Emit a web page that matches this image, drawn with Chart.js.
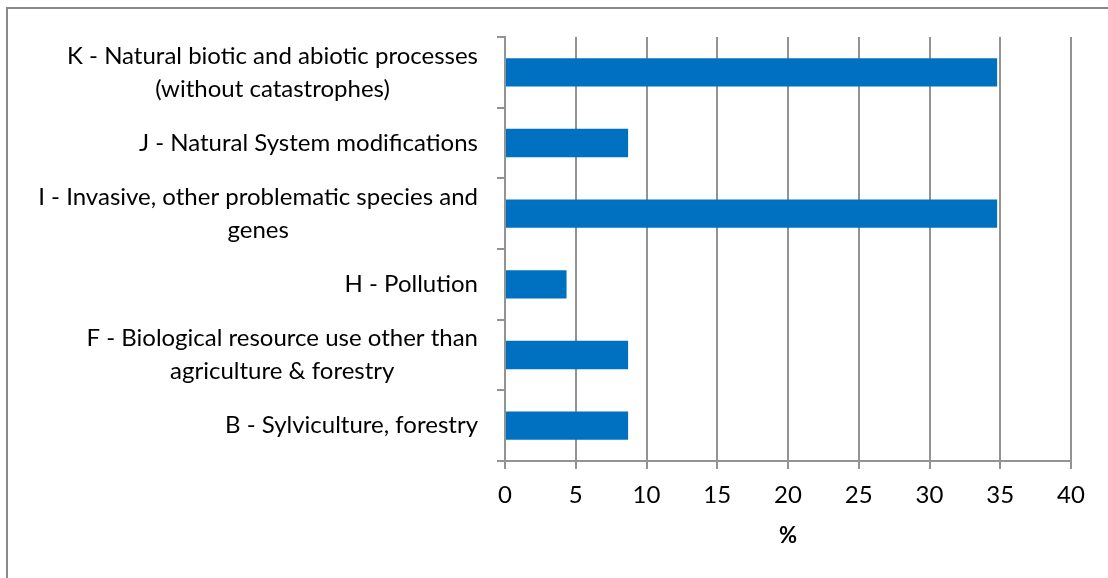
<!DOCTYPE html>
<html>
<head>
<meta charset="utf-8">
<script src="https://cdn.jsdelivr.net/npm/chart.js@4/dist/chart.umd.min.js"></script>
<style>
  html, body { margin: 0; padding: 0; background: #ffffff; }
  #wrap { width: 1108px; height: 578px; position: relative; }
</style>
</head>
<body>
<div id="wrap"><canvas id="c" width="1108" height="578"></canvas></div>
<script>
// Threat categories (top to bottom) with their wrapped label lines
const categories = [
  ["K - Natural biotic and abiotic processes", "(without catastrophes)"],
  ["J - Natural System modifications"],
  ["I - Invasive, other problematic species and", "genes"],
  ["H - Pollution"],
  ["F - Biological resource use other than", "agriculture & forestry"],
  ["B - Sylviculture, forestry"]
];
// Share of each category, in %
const shares = [34.78, 8.70, 34.78, 4.35, 8.70, 8.70];
// Value axis range and step
const axisMin = 0;
const axisMax = 40;
const axisStep = 5;
const axisTitle = "%";

const FONT = "Lato, 'Open Sans', sans-serif";
const GRID = "#939393";

// Outer frame around the figure
const framePlugin = {
  id: "frame",
  beforeDraw(chart) {
    const ctx = chart.ctx;
    ctx.save();
    ctx.strokeStyle = "#8a8a8a";
    ctx.lineWidth = 2;
    ctx.strokeRect(7, 8, chart.width + 20, chart.height + 20);
    ctx.restore();
  }
};

// Category labels: each block sits right of the axis gap, lines centred within the block
const categoryLabelPlugin = {
  id: "categoryLabels",
  afterDraw(chart) {
    const ctx = chart.ctx;
    const y = chart.scales.y;
    const rightEdge = chart.chartArea.left - 27;
    const lineH = 33;
    ctx.save();
    ctx.font = "24px " + FONT;
    ctx.fillStyle = "#000000";
    ctx.textAlign = "center";
    ctx.textBaseline = "middle";
    chart.data.labels.forEach((lines, i) => {
      const cy = y.getPixelForValue(i);
      const w = Math.max(...lines.map(l => ctx.measureText(l).width));
      const cx = rightEdge - w / 2;
      const top = cy - (lines.length - 1) * lineH / 2;
      lines.forEach((l, k) => ctx.fillText(l, cx, top + k * lineH));
    });
    ctx.restore();
  }
};

new Chart(document.getElementById("c"), {
  type: "bar",
  data: {
    labels: categories,
    datasets: [{
      data: shares,
      backgroundColor: "#0070C0",
      borderWidth: 0,
      categoryPercentage: 1.0,
      barPercentage: 0.4
    }]
  },
  plugins: [framePlugin, categoryLabelPlugin],
  options: {
    indexAxis: "y",
    responsive: false,
    animation: false,
    layout: { padding: { top: 37, right: 37, left: 0, bottom: 0 } },
    plugins: { legend: { display: false }, tooltip: { enabled: false } },
    scales: {
      x: {
        min: axisMin,
        max: axisMax,
        afterFit(scale) { scale.height = 117; },
        ticks: {
          stepSize: axisStep,
          color: "#000000",
          font: { family: FONT, size: 24 },
          padding: 12
        },
        grid: {
          color: GRID,
          lineWidth: 2,
          drawTicks: true,
          tickLength: 8
        },
        border: { color: GRID, width: 2 },
        title: {
          display: true,
          text: axisTitle,
          color: "#000000",
          font: { family: FONT, size: 22, weight: "bold" },
          padding: { top: 0, bottom: 29 }
        }
      },
      y: {
        afterFit(scale) { scale.width = 505; },
        ticks: { display: false },
        grid: {
          offset: true,
          drawOnChartArea: false,
          drawTicks: true,
          tickLength: 8,
          color: GRID,
          lineWidth: 2
        },
        border: { color: GRID, width: 2 }
      }
    }
  }
});
</script>
</body>
</html>
